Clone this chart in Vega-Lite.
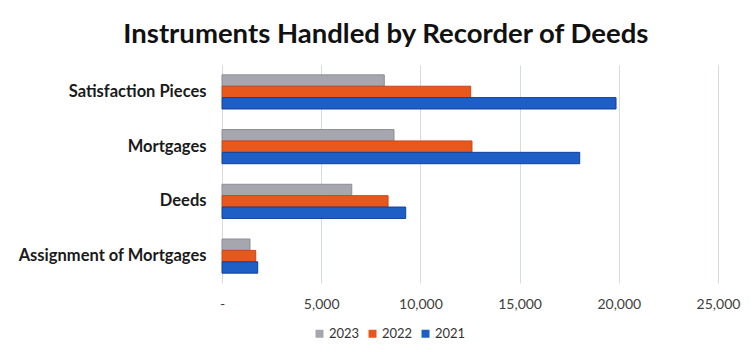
{
  "$schema": "https://vega.github.io/schema/vega-lite/v6.json",
  "width": 496,
  "height": 218,
  "autosize": {"type": "none"},
  "padding": {"left": 222, "top": 65, "right": 37, "bottom": 69},
  "background": "white",
  "title": {
    "text": "Instruments Handled by Recorder of Deeds",
    "font": "Lato",
    "fontSize": 27.5,
    "fontWeight": "bold",
    "color": "#111111",
    "anchor": "middle",
    "frame": "bounds",
    "offset": 17,
    "dx": 7
  },
  "data": {
    "values": [
      {"category": "Satisfaction Pieces", "year": "2023", "count": 8180},
      {"category": "Satisfaction Pieces", "year": "2022", "count": 12535},
      {"category": "Satisfaction Pieces", "year": "2021", "count": 19860},
      {"category": "Mortgages", "year": "2023", "count": 8670},
      {"category": "Mortgages", "year": "2022", "count": 12600},
      {"category": "Mortgages", "year": "2021", "count": 18030},
      {"category": "Deeds", "year": "2023", "count": 6540},
      {"category": "Deeds", "year": "2022", "count": 8370},
      {"category": "Deeds", "year": "2021", "count": 9260},
      {"category": "Assignment of Mortgages", "year": "2023", "count": 1410},
      {"category": "Assignment of Mortgages", "year": "2022", "count": 1700},
      {"category": "Assignment of Mortgages", "year": "2021", "count": 1800}
    ]
  },
  "mark": {"type": "bar", "strokeWidth": 1},
  "encoding": {
    "y": {
      "field": "category",
      "type": "nominal",
      "sort": ["Satisfaction Pieces", "Mortgages", "Deeds", "Assignment of Mortgages"],
      "scale": {"paddingInner": 0.376, "paddingOuter": 0.18},
      "axis": {
        "title": null,
        "domain": false,
        "ticks": false,
        "labelFont": "Lato",
        "labelFontSize": 16.5,
        "labelFontWeight": "bold",
        "labelColor": "#1a1a1a",
        "labelPadding": 16,
        "labelLimit": 300
      }
    },
    "yOffset": {
      "field": "year",
      "type": "nominal",
      "sort": ["2023", "2022", "2021"]
    },
    "x": {
      "field": "count",
      "type": "quantitative",
      "scale": {"domain": [0, 25000], "nice": false},
      "axis": {
        "title": null,
        "values": [0, 5000, 10000, 15000, 20000, 25000],
        "labelExpr": "datum.value == 0 ? '-' : format(datum.value, ',')",
        "labelFlush": false,
        "labelOverlap": false,
        "domain": false,
        "ticks": false,
        "grid": true,
        "gridColor": "#d6dbe2",
        "gridWidth": 1,
        "labelFont": "Lato",
        "labelFontSize": 14,
        "labelColor": "#404040",
        "labelPadding": 14
      }
    },
    "color": {
      "field": "year",
      "type": "nominal",
      "sort": ["2023", "2022", "2021"],
      "scale": {"domain": ["2023", "2022", "2021"], "range": ["#a6a6ae", "#e8581c", "#1d5fc5"]},
      "legend": {
        "title": null,
        "orient": "none",
        "direction": "horizontal",
        "legendX": 91,
        "legendY": 262,
        "symbolType": "square",
        "symbolSize": 64,
        "symbolStrokeWidth": 0,
        "labelFont": "Lato",
        "labelFontSize": 13,
        "labelColor": "#333333",
        "columnPadding": 6,
        "labelOffset": 3
      }
    },
    "stroke": {
      "field": "year",
      "type": "nominal",
      "scale": {"domain": ["2023", "2022", "2021"], "range": ["#8d8d95", "#c9461a", "#163f9c"]},
      "legend": null
    }
  },
  "config": {
    "view": {"stroke": null}
  }
}
